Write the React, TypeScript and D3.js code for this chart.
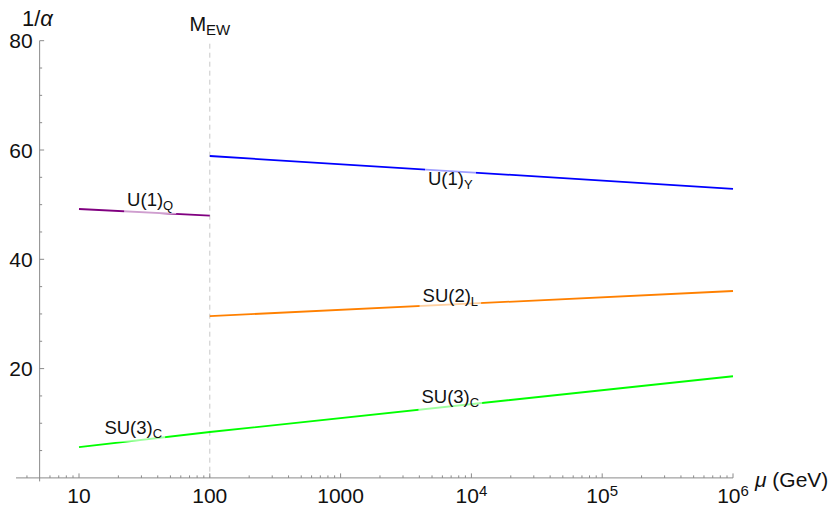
import React, { useEffect, useRef } from "react";
import * as d3 from "d3";

// Running inverse couplings 1/alpha versus energy scale mu (GeV)
const u1QMu = [10, 100];
const u1QVal = [49.2, 48.0];

const u1YMu = [100, 1e6];
const u1YVal = [58.9, 52.9];

const su2Mu = [100, 1e6];
const su2Val = [29.6, 34.2];

const su3Mu = [10, 100, 1e6];
const su3Val = [5.65, 8.4, 18.6];

const ewScale = 100;

const xTickDecades = [1, 2, 3, 4, 5, 6];
const yMajorTicks = [20, 40, 60, 80];

type Series = { mu: number[]; val: number[]; color: string };

const series: Series[] = [
  { mu: u1QMu, val: u1QVal, color: "#800080" },
  { mu: u1YMu, val: u1YVal, color: "#0000ff" },
  { mu: su2Mu, val: su2Val, color: "#ff8000" },
  { mu: su3Mu, val: su3Val, color: "#00ff00" },
];

// label text, which series it sits on, where along mu, baseline offset from the line (px)
const labels = [
  { main: "U(1)", sub: "Q", s: 0, at: 35, dy: -6.5 },
  { main: "U(1)", sub: "Y", s: 1, at: 6900, dy: 14 },
  { main: "SU(2)", sub: "L", s: 2, at: 6900, dy: -2.5 },
  { main: "SU(3)", sub: "C", s: 3, at: 26, dy: -7 },
  { main: "SU(3)", sub: "C", s: 3, at: 6900, dy: -3.5 },
];

const W = 833;
const H = 506;
const FONT = "'Liberation Sans', Arial, sans-serif";

export default function App() {
  const ref = useRef<SVGSVGElement | null>(null);

  useEffect(() => {
    const svg = d3.select(ref.current);
    svg.selectAll("*").remove();

    const x = d3.scaleLog().domain([10, 1e6]).range([79, 733]);
    const y = d3.scaleLinear().domain([0, 80]).range([477.9, 40.7]);
    const xStart = 3.3;
    const yAxisAt = 5;
    const axisColor = "#8a8a8a";
    const textColor = "#111";

    const g = svg.append("g");

    // dashed marker at the electroweak scale
    g.append("line")
      .attr("x1", x(ewScale))
      .attr("x2", x(ewScale))
      .attr("y1", y(80) + 3)
      .attr("y2", y(0))
      .attr("stroke", "#c8c8c8")
      .attr("stroke-width", 1)
      .attr("stroke-dasharray", "5,4");

    // x axis
    const x0 = y(0);
    g.append("line")
      .attr("x1", x(xStart))
      .attr("x2", x(1e6))
      .attr("y1", x0)
      .attr("y2", x0)
      .attr("stroke", axisColor)
      .attr("stroke-width", 1);

    // minor and major ticks on x (pointing up)
    const minorX: number[] = [];
    for (let e = 0; e <= 5; e++) {
      for (let k = 2; k <= 9; k++) {
        const v = k * Math.pow(10, e);
        if (v >= xStart && v < 1e6 && v !== yAxisAt) minorX.push(v);
      }
    }
    g.selectAll(".xminor")
      .data(minorX)
      .enter()
      .append("line")
      .attr("x1", (d) => x(d))
      .attr("x2", (d) => x(d))
      .attr("y1", x0)
      .attr("y2", x0 - 2.5)
      .attr("stroke", axisColor)
      .attr("stroke-width", 1);
    g.selectAll(".xmajor")
      .data(xTickDecades)
      .enter()
      .append("line")
      .attr("x1", (d) => x(Math.pow(10, d)))
      .attr("x2", (d) => x(Math.pow(10, d)))
      .attr("y1", x0)
      .attr("y2", x0 - 4.5)
      .attr("stroke", axisColor)
      .attr("stroke-width", 1);

    // x tick labels
    xTickDecades.forEach((e) => {
      const t = g
        .append("text")
        .attr("x", x(Math.pow(10, e)))
        .attr("y", 503)
        .attr("text-anchor", "middle")
        .attr("font-family", FONT)
        .attr("font-size", 21)
        .attr("fill", textColor);
      if (e <= 3) {
        t.text(String(Math.pow(10, e)));
      } else {
        t.append("tspan").text("10");
        t.append("tspan")
          .attr("font-size", 15)
          .attr("dy", -7)
          .text(String(e));
      }
    });

    // y axis
    const ax = x(yAxisAt);
    g.append("line")
      .attr("x1", ax)
      .attr("x2", ax)
      .attr("y1", y(80))
      .attr("y2", y(0) + 3.5)
      .attr("stroke", axisColor)
      .attr("stroke-width", 1);

    const minorY = d3.range(5, 80, 5).filter((v) => v % 20 !== 0);
    g.selectAll(".yminor")
      .data(minorY)
      .enter()
      .append("line")
      .attr("x1", ax)
      .attr("x2", ax + 2.5)
      .attr("y1", (d) => y(d))
      .attr("y2", (d) => y(d))
      .attr("stroke", axisColor)
      .attr("stroke-width", 1);
    g.selectAll(".ymajor")
      .data(yMajorTicks)
      .enter()
      .append("line")
      .attr("x1", ax)
      .attr("x2", ax + 4.5)
      .attr("y1", (d) => y(d))
      .attr("y2", (d) => y(d))
      .attr("stroke", axisColor)
      .attr("stroke-width", 1);
    g.selectAll(".ylab")
      .data(yMajorTicks)
      .enter()
      .append("text")
      .attr("x", ax - 7)
      .attr("y", (d) => y(d) + 7.5)
      .attr("text-anchor", "end")
      .attr("font-family", FONT)
      .attr("font-size", 21)
      .attr("fill", textColor)
      .text((d) => String(d));

    // axis titles
    const yt = g
      .append("text")
      .attr("x", 22)
      .attr("y", 26)
      .attr("font-family", FONT)
      .attr("font-size", 22)
      .attr("fill", textColor);
    yt.append("tspan").text("1/");
    yt.append("tspan").attr("font-style", "italic").text("α");

    const xt = g
      .append("text")
      .attr("x", 755)
      .attr("y", 487)
      .attr("font-family", FONT)
      .attr("font-size", 21)
      .attr("fill", textColor);
    xt.append("tspan").attr("font-style", "italic").text("μ");
    xt.append("tspan").text(" (GeV)");

    const mt = g
      .append("text")
      .attr("x", x(ewScale))
      .attr("y", 31)
      .attr("text-anchor", "middle")
      .attr("font-family", FONT)
      .attr("font-size", 20)
      .attr("fill", textColor);
    mt.append("tspan").text("M");
    mt.append("tspan").attr("font-size", 15).attr("dy", 4).text("EW");

    // coupling curves (straight in log mu)
    const line = d3
      .line<[number, number]>()
      .x((d) => x(d[0]))
      .y((d) => y(d[1]));
    series.forEach((s) => {
      const pts = s.mu.map((m, i) => [m, s.val[i]] as [number, number]);
      g.append("path")
        .attr("d", line(pts))
        .attr("fill", "none")
        .attr("stroke", s.color)
        .attr("stroke-width", 1.8);
    });

    // in-line labels with translucent backing
    labels.forEach((lb) => {
      const s = series[lb.s];
      const interp = d3.scaleLog().domain(s.mu).range(s.val);
      const lx = x(lb.at);
      const ly = y(interp(lb.at)) + lb.dy;
      const lg = g.append("g");
      const t = lg
        .append("text")
        .attr("x", lx)
        .attr("y", ly)
        .attr("text-anchor", "middle")
        .attr("font-family", FONT)
        .attr("font-size", 18.5)
        .attr("fill", textColor);
      t.append("tspan").text(lb.main);
      t.append("tspan").attr("font-size", 13).attr("dy", 4).text(lb.sub);
      const bb = (t.node() as SVGTextElement).getBBox();
      lg.insert("rect", "text")
        .attr("x", bb.x - 3)
        .attr("y", bb.y - 2)
        .attr("width", bb.width + 6)
        .attr("height", bb.height + 3)
        .attr("fill", "#ffffff")
        .attr("fill-opacity", 0.62);
    });
  }, []);

  return (
    <svg
      ref={ref}
      width={W}
      height={H}
      style={{ position: "absolute", left: 0, top: 0, background: "#fff" }}
    />
  );
}
